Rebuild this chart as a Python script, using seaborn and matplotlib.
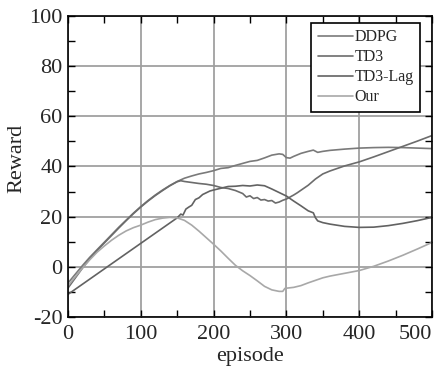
import pandas as pd
import seaborn as sns
import matplotlib.pyplot as plt
from matplotlib.ticker import MultipleLocator

# episode / reward values
ddpg_ep = [0, 10, 20, 30, 40, 50, 60, 70, 80, 90, 100, 110, 120, 130, 140, 150, 160, 170, 180, 190,
           200, 210, 220, 230, 240, 250, 260, 270, 280, 290, 295, 300, 305, 310, 320, 330, 337, 343,
           350, 360, 380, 400, 420, 440, 460, 480, 500]
ddpg_rw = [-6.5, -3, 0.5, 3.8, 6.8, 9.8, 12.8, 15.8, 18.6, 21.4, 24, 26.4, 28.6, 30.6, 32.4, 34, 35.3,
           36.2, 37, 37.6, 38.3, 39.2, 39.5, 40.4, 41.2, 42, 42.4, 43.4, 44.5, 45, 44.8, 43.5, 43.3,
           44, 45.2, 46, 46.5, 45.6, 46, 46.4, 46.9, 47.3, 47.5, 47.6, 47.5, 47.3, 47.1]

td3_ep = [0, 10, 20, 30, 40, 50, 60, 70, 80, 90, 100, 110, 120, 130, 140, 150, 155, 160, 170, 180,
          190, 200, 210, 220, 230, 240, 245, 250, 255, 260, 265, 270, 275, 280, 285, 290, 295, 300,
          305, 310, 315, 320, 325, 330, 340, 350, 360, 380, 400, 420, 440, 460, 480, 500]
td3_rw = [-8.5, -4.5, -0.5, 3.2, 6.5, 9.5, 12.5, 15.5, 18.4, 21.2, 23.8, 26.2, 28.4, 30.4, 32.3, 33.9,
          34.3, 34, 33.6, 33.2, 32.9, 32.4, 31.6, 31.2, 30.4, 29.2, 27.8, 28.3, 27.2, 27.6, 26.6, 26.8,
          26.2, 26.4, 25.4, 25.8, 26.5, 27, 27.8, 28.6, 29.5, 30.5, 31.5, 32.5, 35, 37, 38.2, 40.2,
          41.8, 43.8, 45.9, 48, 50.1, 52.3]

lag_ep = [0, 150, 155, 158, 162, 166, 170, 175, 180, 185, 190, 195, 200, 210, 220, 230, 240, 250, 260,
          270, 280, 290, 300, 310, 320, 330, 337, 340, 343, 350, 360, 380, 400, 420, 440, 460, 480, 500]
lag_rw = [-11, 19.5, 21, 20.6, 23, 23.8, 24.5, 26.8, 27.5, 28.8, 29.5, 30.2, 30.6, 31.3, 32, 32.1,
          32.4, 32.2, 32.6, 32.3, 31, 29.6, 28.2, 26.2, 24.3, 22.3, 21.5, 19.5, 18.3, 17.6, 17, 16.1,
          15.7, 15.8, 16.4, 17.3, 18.4, 19.7]

our_ep = [0, 10, 20, 30, 40, 50, 60, 70, 80, 90, 100, 110, 120, 130, 140, 150, 160, 170, 180, 190,
          200, 210, 220, 230, 240, 250, 260, 270, 280, 290, 295, 298, 310, 320, 330, 340, 350, 360,
          380, 400, 420, 440, 460, 480, 500]
our_rw = [-7.6, -4, -0.5, 2.8, 5.8, 8.3, 10.6, 12.6, 14.3, 15.6, 16.6, 17.8, 18.8, 19.4, 19.7, 19.5,
          18.5, 16.6, 14.2, 11.6, 9, 6.3, 3.4, 0.6, -1.6, -3.5, -5.6, -7.8, -9.2, -9.8, -9.8, -8.6,
          -8.2, -7.5, -6.4, -5.4, -4.4, -3.7, -2.6, -1.5, 0.2, 2.3, 4.6, 7.1, 9.7]

methods = ["DDPG", "TD3", "TD3-Lag", "Our"]
colors = ["#7a7a7a", "#6c6c6c", "#626262", "#a8a8a8"]
x_ticks = [0, 100, 200, 300, 400, 500]
y_ticks = [-20, 0, 20, 40, 60, 80, 100]

frames = []
for name, ep, rw in zip(methods, [ddpg_ep, td3_ep, lag_ep, our_ep], [ddpg_rw, td3_rw, lag_rw, our_rw]):
    frames.append(pd.DataFrame({"episode": ep, "Reward": rw, "method": name}))
df = pd.concat(frames, ignore_index=True)

sns.set_style("whitegrid")
plt.rcParams['font.family'] = ['Liberation Serif', 'DejaVu Serif']

fig = plt.figure(figsize=(4.44, 3.69), dpi=100)
ax = fig.add_axes([0.153, 0.141, 0.82, 0.816])

sns.lineplot(data=df, x="episode", y="Reward", hue="method", hue_order=methods,
             palette=colors, estimator=None, sort=False, linewidth=1.2, ax=ax)

ax.set_xlim(0, 500)
ax.set_ylim(-20, 100)
ax.set_xticks(x_ticks)
ax.set_yticks(y_ticks)
ax.set_yticklabels([str(v) for v in y_ticks])
ax.xaxis.set_minor_locator(MultipleLocator(50))
ax.yaxis.set_minor_locator(MultipleLocator(10))
ax.grid(True, which="major", color="#a0a0a0", linewidth=1.3)
ax.grid(False, which="minor")
for s in ax.spines.values():
    s.set_color("black")
    s.set_linewidth(1.2)
ax.tick_params(which="both", direction="in", top=True, right=True, bottom=True, left=True,
               color="black", labelsize=16, length=5, width=1)
ax.tick_params(axis="x", pad=6)
ax.tick_params(axis="y", pad=4)
# last x label sits flush with the right edge, as in the reference
ax.get_xticklabels()[-1].set_horizontalalignment("right")

ax.set_xlabel("episode", fontsize=16, labelpad=2)
ax.set_ylabel("Reward", fontsize=16)
ax.yaxis.set_label_coords(-0.115, 0.527)

leg = ax.legend(loc="upper right", bbox_to_anchor=(0.967, 0.977), borderaxespad=0,
                fontsize=11.5, frameon=True, fancybox=False, framealpha=1,
                handlelength=2.2, handletextpad=0.1, labelspacing=0.25, borderpad=0.4)
leg.get_frame().set_edgecolor("black")
leg.get_frame().set_linewidth(1.2)

plt.savefig("out.png", dpi=100)
